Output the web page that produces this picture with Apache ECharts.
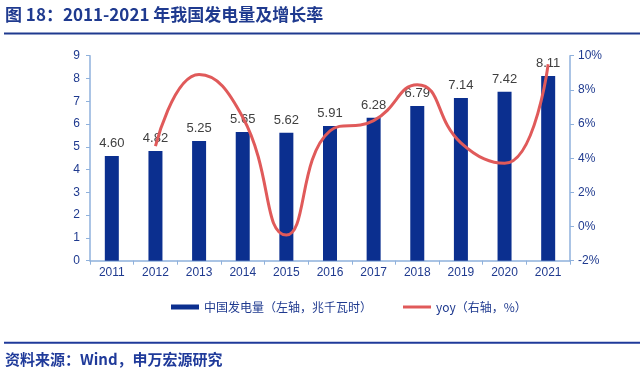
<!DOCTYPE html>
<html><head><meta charset="utf-8">
<script src="https://cdn.jsdelivr.net/npm/echarts@6/dist/echarts.min.js"></script>
<style>html,body{margin:0;padding:0;background:#fff}#c{width:640px;height:374px}</style>
</head><body><div id="c"></div>
<script>
var years = ['2011','2012','2013','2014','2015','2016','2017','2018','2019','2020','2021'];
var generation = [4.60,4.82,5.25,5.65,5.62,5.91,6.28,6.79,7.14,7.42,8.11];
var yoy = [null,4.7,8.9,6.4,-0.5,5.6,6.2,8.3,4.9,3.7,9.5];
var leftTicks = [0,1,2,3,4,5,6,7,8,9];
var rightTicks = [-2,0,2,4,6,8,10];

var navy = '#1f3a8f';
var axisCol = '#8fb1dc';
var chart = echarts.init(document.getElementById('c'), null, {renderer:'canvas'});
chart.setOption({
  animation:false,
  textStyle:{fontFamily:'Liberation Sans, Noto Sans CJK SC'},
  graphic:[
    {type:'text', left:5, top:6, style:{text:'图 18：2011-2021 年我国发电量及增长率', fill:'#1f3a8f', font:'bold 17px "Noto Sans CJK SC", sans-serif'}},
    {type:'rect', shape:{x:4, y:32.5, width:636, height:2}, style:{fill:'#1f3a8f'}},
    {type:'rect', shape:{x:4, y:341.8, width:636, height:2}, style:{fill:'#1f3a9a'}},
    {type:'text', left:5, top:352, style:{text:'资料来源：Wind，申万宏源研究', fill:'#1f3a9a', font:'bold 15px "Noto Sans CJK SC", sans-serif'}}
  ],
  grid:{left:90, right:70, top:55.7, bottom:113.3},
  legend:{
    left:166, top:296, itemGap:31, itemWidth:28, itemHeight:5,
    textStyle:{color:navy, fontSize:12, fontFamily:'Noto Sans CJK SC'},
    data:[
      {name:'中国发电量（左轴，兆千瓦时）', icon:'rect'},
      {name:'yoy（右轴，%）', icon:'path://M0,0H28V3H0Z'}
    ]
  },
  xAxis:{
    type:'category', data:years, boundaryGap:true,
    axisLine:{lineStyle:{color:axisCol, width:1.5}},
    axisTick:{show:true, alignWithLabel:false, length:4, lineStyle:{color:axisCol}},
    axisLabel:{color:navy, fontSize:12, margin:6}
  },
  yAxis:[
    {type:'value', min:0, max:9, interval:1, position:'left',
     axisLine:{show:true, lineStyle:{color:axisCol, width:1.5}},
     axisTick:{show:true, length:4, lineStyle:{color:axisCol}},
     splitLine:{show:false},
     axisLabel:{color:navy, fontSize:12, margin:10}},
    {type:'value', min:-2, max:10, interval:2, position:'right',
     axisLine:{show:true, lineStyle:{color:axisCol, width:1.5}},
     axisTick:{show:true, length:4, lineStyle:{color:axisCol}},
     splitLine:{show:false},
     axisLabel:{color:navy, fontSize:12, margin:8, formatter:function(v){return v+'%';}}}
  ],
  series:[
    {name:'中国发电量（左轴，兆千瓦时）', type:'bar', data:generation, barWidth:14,
     itemStyle:{color:'#0b2f8f'},
     label:{show:true, position:'top', distance:6, color:'#404040', fontSize:13,
       formatter:function(p){return p.value.toFixed(2);}}},
    {name:'yoy（右轴，%）', type:'line', yAxisIndex:1, data:yoy, smooth:0.5,
     connectNulls:false, showSymbol:false, symbol:'none',
     lineStyle:{color:'#e05a5a', width:3}, itemStyle:{color:'#e05a5a'}}
  ]
});
</script></body></html>
